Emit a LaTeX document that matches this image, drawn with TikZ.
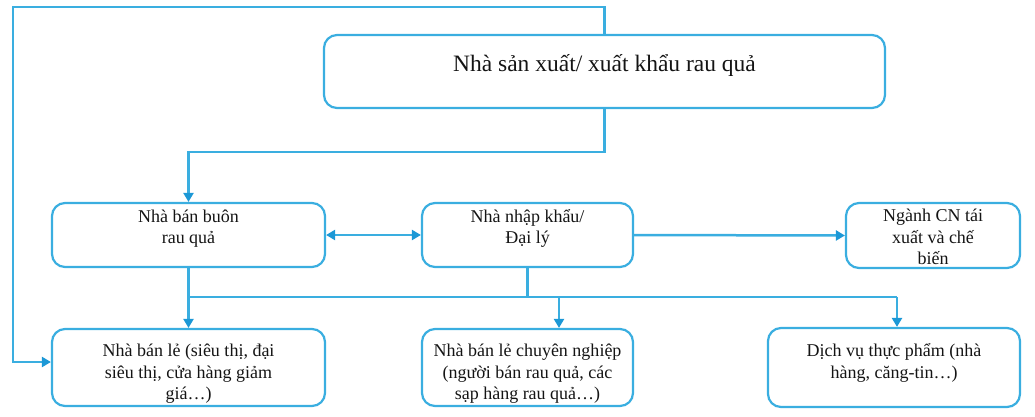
\documentclass[tikz,border=0pt]{standalone}
\usepackage{fontspec}
\setmainfont{Liberation Serif}
\usetikzlibrary{arrows.meta,calc}
\definecolor{cblue}{RGB}{58,174,224}
\definecolor{ctip}{RGB}{28,152,214}
\definecolor{ctext}{RGB}{20,20,20}
\tikzset{
  box/.style={draw=cblue, line width=2.2pt, rounded corners=13pt, align=center,
    inner sep=0pt, text=ctext, font=\fontsize{18}{21.5}\selectfont},
  conn/.style={draw=cblue, line width=2.5pt},
  arr/.style={conn, -{Triangle[width=10pt,length=9pt,color=ctip]}},
  dblarr/.style={conn, {Triangle[width=10pt,length=9pt,color=ctip]}-{Triangle[width=10pt,length=9pt,color=ctip]}},
}
\newcommand{\boxtext}[2][0pt]{\raisebox{#1}[0pt][0pt]{\begin{tabular}{@{}c@{}}#2\end{tabular}}}
\begin{document}
\begin{tikzpicture}[x=1pt,y=-1pt]
\useasboundingbox (0,0) rectangle (1035,416);
% boxes
\node[box, minimum width=561, minimum height=73, font=\fontsize{23.5}{27}\selectfont] (prod) at (604.5,71.5) {\boxtext[-1pt]{Nhà sản xuất/ xuất khẩu rau quả}};
\node[box, minimum width=273, minimum height=64] (whole) at (188.5,235) {\boxtext[2pt]{Nhà bán buôn\\rau quả}};
\node[box, minimum width=211, minimum height=64] (imp) at (527.5,235) {\boxtext[2pt]{Nhà nhập khẩu/\\Đại lý}};
\node[box, minimum width=174, minimum height=65] (ind) at (933,235.5) {\boxtext[-8pt]{Ngành CN tái\\xuất và chế\\biến}};
\node[box, minimum width=273, minimum height=77] (ret1) at (188.5,367.5) {\boxtext[-11pt]{Nhà bán lẻ (siêu thị, đại\\siêu thị, cửa hàng giảm\\giá…)}};
\node[box, minimum width=211, minimum height=77] (ret2) at (527.5,367.5) {\boxtext[-11pt]{Nhà bán lẻ chuyên nghiệp\\(người bán rau quả, các\\sạp hàng rau quả…)}};
\node[box, minimum width=252, minimum height=79] (food) at (894,367.5) {\boxtext[0pt]{Dịch vụ thực phẩm (nhà\\hàng, căng-tin…)}};
% coordinates
\coordinate (tl) at (13,7);
\coordinate (mid) at (188.5,152);
\coordinate (busL) at (188.5,297);
\coordinate (busR) at (897,297);
\coordinate (j2) at (559,297);
% connectors
\draw[arr] (prod.north) |- (tl) |- ($(ret1.west)+(0,-5.5)$);
\draw[arr] (prod.south) |- (mid) -- (whole.north);
\draw[dblarr] (whole.east) -- (imp.west);
\draw[arr] (imp.east) -- (ind.west);
\draw[arr] (whole.south) -- (ret1.north);
\draw[conn] (busL) -- (busR);
\draw[conn] (imp.south) -- (imp.south |- busL);
\draw[arr] (j2) -- (j2 |- ret2.north);
\draw[arr] (busR) -- (busR |- food.north);
\end{tikzpicture}
\end{document}
